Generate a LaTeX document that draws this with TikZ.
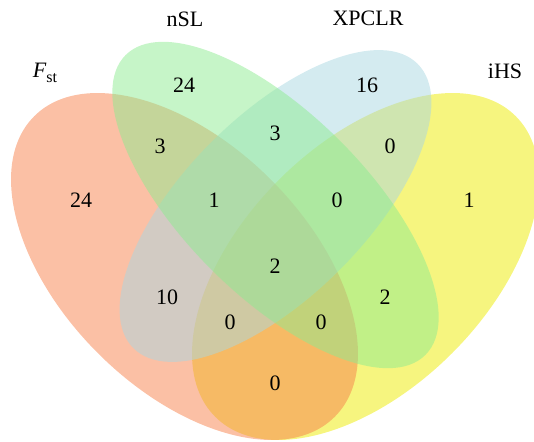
\documentclass[tikz,border=0pt]{standalone}
\usepackage{fontspec}
\setmainfont{Liberation Serif}
\definecolor{fstc}{RGB}{247,129,75}
\definecolor{nslc}{RGB}{141,235,145}
\definecolor{xpc}{RGB}{169,215,225}
\definecolor{ihsc}{RGB}{237,235,0}
\tikzset{
  setfill/.style={fill=#1, fill opacity=0.5, draw=none},
  count/.style={inner sep=0pt, font=\fontsize{22}{22}\selectfont},
  setname/.style={inner sep=0pt, font=\fontsize{22}{22}\selectfont},
}
\begin{document}
\begin{tikzpicture}[x=1pt, y=-1pt]
\useasboundingbox (0,0) rectangle (534,441);
\clip (0,0) rectangle (534,441);
% the four sets, bottom to top
\fill[setfill=ihsc, shift={(365.5,266.5)}, rotate=45] (0,0) ellipse (212.5pt and 122.5pt);
\fill[setfill=fstc, shift={(184.5,266.5)}, rotate=-45] (0,0) ellipse (212.5pt and 122.5pt);
\fill[setfill=xpc, shift={(275.5,206)}, rotate=45] (0,0) ellipse (201pt and 90.5pt);
\fill[setfill=nslc, shift={(275.5,205)}, rotate=-45] (0,0) ellipse (212pt and 91pt);

% set names
\node[setname] (lfst) at (45,73) {\textit{F}\raisebox{-5pt}{\fontsize{16}{16}\selectfont st}};
\node[setname] (lnsl) at (185,19.5) {nSL};
\node[setname] (lxp) at (368,18) {XPCLR};
\node[setname] (lihs) at (505,71) {iHS};

% region counts
\node[count] (c1) at (81,200) {24};
\node[count] (c2) at (184,85) {24};
\node[count] (c3) at (367,85) {16};
\node[count] (c4) at (469,200) {1};
\node[count] (c12) at (160,146) {3};
\node[count] (c23) at (275,133) {3};
\node[count] (c34) at (390,146) {0};
\node[count] (c123) at (214,200) {1};
\node[count] (c234) at (337,200) {0};
\node[count] (c1234) at (275,266) {2};
\node[count] (c13) at (167,297) {10};
\node[count] (c24) at (385,297) {2};
\node[count] (c134) at (230,322) {0};
\node[count] (c124) at (321,322) {0};
\node[count] (c14) at (275,383) {0};
\end{tikzpicture}
\end{document}
